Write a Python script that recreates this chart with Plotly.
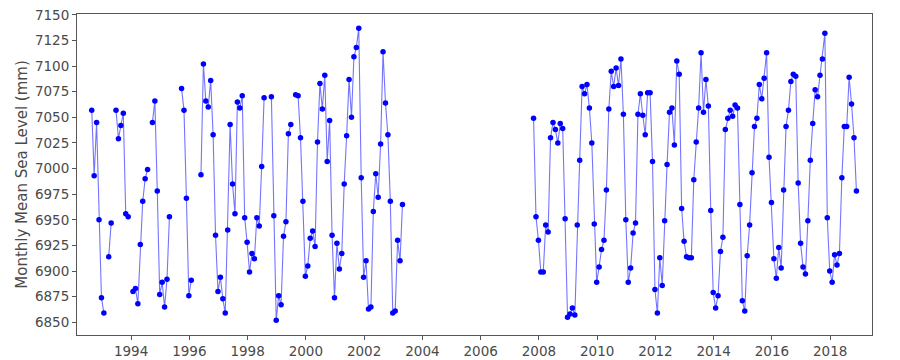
import numpy as np
import plotly.graph_objects as go

# Monthly mean sea level (mm), first record: monthly from ~Sep 1992 (None = missing month)
seg1_start = 1992.65
seg1_values = [
    7057, 6993, 7045, 6950, 6874, 6859, None, 6914, 6947, None,
    7057, 7029, 7042, 7054, 6956, 6953, None, 6880, 6883, 6868,
    6926, 6968, 6990, 6999, None, 7045, 7066, 6978, 6877, 6889,
    6865, 6892, 6953, None, None, None, None, 7078, 7057, 6971,
    6876, 6891, None, None, None, 6994, 7102, 7066, 7060, 7086,
    7033, 6935, 6880, 6894, 6873, 6859, 6940, 7043, 6985, 6956,
    7065, 7059, 7071, 6952, 6928, 6899, 6917, 6912, 6952, 6944,
    7002, 7069, None, None, 7070, 6954, 6852, 6876, 6867, 6934,
    6948, 7034, 7043, None, 7072, 7071, 7030, 6968, 6895, 6905,
    6932, 6939, 6924, 7026, 7083, 7058, 7091, 7007, 7047, 6935,
    6874, 6927, 6902, 6917, 6985, 7032, 7087, 7050, 7109, 7118,
    7137, 6991, 6894, 6910, 6863, 6865, 6958, 6995, 6972, 7024,
    7114, 7064, 7033, 6968, 6859, 6861, 6930, 6910, 6965,
]

# Second record: monthly from ~Nov 2007
seg2_start = 2007.817
seg2_values = [
    7049, 6953, 6930, 6899, 6899, 6945, 6938, 7030, 7045, 7038,
    7025, 7044, 7039, 6951, 6855, 6858, 6864, 6857, 6945, 7008,
    7080, 7073, 7082, 7059, 7025, 6946, 6889, 6904, 6921, 6930,
    6979, 7058, 7095, 7080, 7098, 7081, 7107, 7053, 6950, 6889,
    6903, 6937, 6947, 7053, 7073, 7052, 7033, 7074, 7074, 7007,
    6882, 6859, 6913, 6886, 6949, 7004, 7055, 7059, 7023, 7105,
    7092, 6961, 6929, 6914, 6913, 6913, 6989, 7026, 7059, 7113,
    7055, 7087, 7061, 6959, 6879, 6864, 6876, 6919, 6933, 7038,
    7049, 7057, 7051, 7062, 7059, 6965, 6871, 6861, 6915, 6945,
    6996, 7041, 7049, 7082, 7068, 7088, 7113, 7011, 6967, 6912,
    6893, 6923, 6903, 6979, 7041, 7057, 7085, 7092, 7090, 6986,
    6927, 6904, 6897, 6949, 7008, 7044, 7077, 7070, 7091, 7107,
    7132, 6952, 6900, 6889, 6916, 6906, 6917, 6991, 7041, 7041,
    7089, 7063, 7030, 6978,
]

y_ticks = [6850, 6875, 6900, 6925, 6950, 6975, 7000, 7025, 7050, 7075, 7100, 7125, 7150]
x_ticks = [1994, 1996, 1998, 2000, 2002, 2004, 2006, 2008, 2010, 2012, 2014, 2016, 2018]

seg1_x = [seg1_start + i / 12 for i in range(len(seg1_values))]
seg2_x = [seg2_start + i / 12 for i in range(len(seg2_values))]
x = seg1_x + [None] + seg2_x
y = seg1_values + [None] + seg2_values

FONT = "DejaVu Sans"
AX = "#555555"
TXT = "#4a4a4a"

fig = go.Figure()
fig.add_trace(go.Scatter(
    x=x, y=y, mode="lines+markers", connectgaps=False,
    line=dict(color="rgba(0,0,255,0.55)", width=1.1),
    marker=dict(color="#0000ff", size=5.5),
    showlegend=False, hoverinfo="x+y",
))

fig.update_layout(
    template="none",
    width=900, height=360,
    margin=dict(l=77, r=28, t=14, b=25),
    paper_bgcolor="white", plot_bgcolor="white",
    font=dict(family=FONT, color=TXT, size=13.5),
    xaxis=dict(
        range=[1992.144, 2019.435], tickvals=x_ticks, ticktext=[str(v) for v in x_ticks],
        showgrid=False, zeroline=False, showline=True, linecolor=AX, linewidth=1,
        mirror=True, ticks="outside", ticklen=4, tickcolor=AX, automargin=False,
        tickfont=dict(size=13.5, family=FONT, color=TXT),
    ),
    yaxis=dict(
        range=[6837.6, 7150.8], tickvals=y_ticks, ticktext=[str(v) for v in y_ticks],
        showgrid=False, zeroline=False, showline=True, linecolor=AX, linewidth=1,
        mirror=True, ticks="outside", ticklen=4, tickcolor=AX, automargin=False,
        tickfont=dict(size=13.5, family=FONT, color=TXT),
        title=dict(text="Monthly Mean Sea Level (mm)", standoff=3,
                   font=dict(size=15, family=FONT, color=TXT)),
    ),
)

fig.write_html("out.html")
